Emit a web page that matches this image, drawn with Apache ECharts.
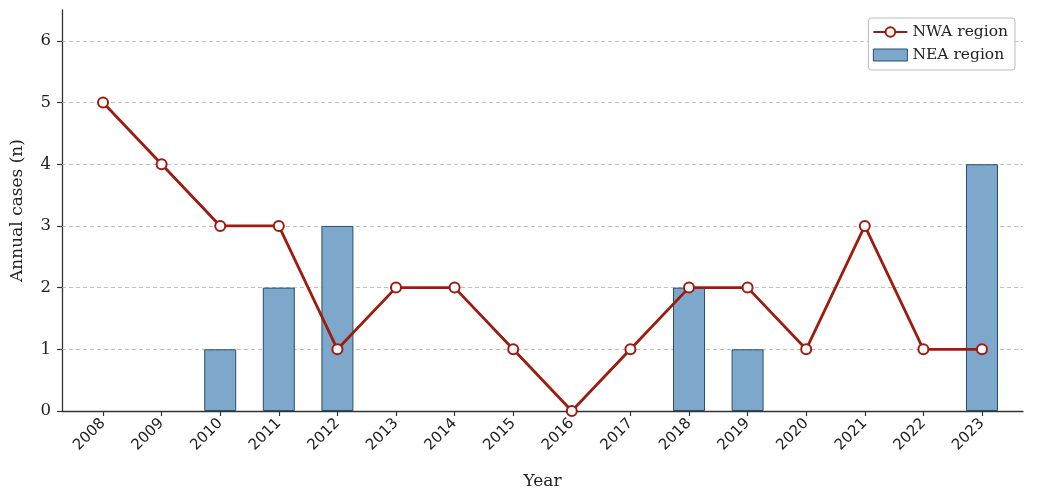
<!DOCTYPE html>
<html><head><meta charset="utf-8">
<script src="https://cdn.jsdelivr.net/npm/echarts@6/dist/echarts.min.js"></script>
<style>html,body{margin:0;padding:0;background:#fff}#c{width:1038px;height:497px}</style>
</head><body><div id="c"></div>
<script>
const years = [2008,2009,2010,2011,2012,2013,2014,2015,2016,2017,2018,2019,2020,2021,2022,2023];
const nwa = [5,4,3,3,1,2,2,1,0,1,2,2,1,3,1,1];
const nea = [0,0,1,2,3,0,0,0,0,0,2,1,0,0,0,4];
const yTicks = [0,1,2,3,4,5,6];

const font = 'DejaVu Serif';
const chart = echarts.init(document.getElementById('c'));
chart.setOption({
  animation: false,
  textStyle: {fontFamily: font},
  grid: {left: 62, right: 15, top: 10, bottom: 86, containLabel: false, outerBoundsMode: 'none'},
  legend: {
    right: 23, top: 18, orient: 'vertical',
    backgroundColor: '#fff', borderColor: '#bbb', borderWidth: 1, borderRadius: 3,
    padding: [6, 7, 7, 4], itemGap: 7, itemWidth: 34, itemHeight: 12,
    textStyle: {fontFamily: font, fontSize: 15.5, color: '#222'},
    data: [
      {name: 'NWA region'},
      {name: 'NEA region', icon: 'rect', itemStyle: {borderWidth: 1}}
    ]
  },
  xAxis: {
    type: 'value', min: 2007.3, max: 2023.7,
    name: 'Year', nameLocation: 'middle', nameGap: 62,
    nameTextStyle: {fontFamily: font, fontSize: 17, color: '#222'},
    axisLine: {lineStyle: {color: '#333', width: 1.3}},
    axisTick: {show: true, length: 5, lineStyle: {color: '#333', width: 1.2}, customValues: years},
    axisLabel: {rotate: 45, fontFamily: 'DejaVu Sans', fontSize: 15, color: '#222', margin: 10, customValues: years,
      formatter: v => String(v)},
    splitLine: {show: false}
  },
  yAxis: {
    type: 'value', min: 0, max: 6.5,
    name: 'Annual cases (n)', nameLocation: 'middle', nameGap: 36,
    nameTextStyle: {fontFamily: font, fontSize: 17, color: '#222'},
    axisLine: {show: true, lineStyle: {color: '#333', width: 1.3}},
    axisTick: {show: true, length: 5, lineStyle: {color: '#333', width: 1.2}, customValues: yTicks},
    axisLabel: {fontFamily: font, fontSize: 16.5, color: '#222', margin: 11, customValues: yTicks},
    splitLine: {show: false}
  },
  series: [
    {
      name: 'NEA region', type: 'bar', barWidth: 32, z: 2,
      data: years.map((y, i) => [y, nea[i]]).filter(d => d[1] > 0),
      itemStyle: {color: '#7ea8cb', borderColor: '#2a4d6e', borderWidth: 1},
      markLine: {
        silent: true, symbol: 'none', z: 1, label: {show: false},
        lineStyle: {type: [4, 3], color: '#b0b0b0', width: 0.8},
        emphasis: {disabled: true},
        data: yTicks.filter(v => v > 0).map(v => ({yAxis: v}))
      }
    },
    {
      name: 'NWA region', type: 'line', z: 3,
      data: years.map((y, i) => [y, nwa[i]]),
      lineStyle: {color: '#9e1b0f', width: 2.8},
      itemStyle: {color: '#fff', borderColor: '#9e1b0f', borderWidth: 2},
      symbol: 'circle', symbolSize: 10, showAllSymbol: true
    }
  ]
});
</script></body></html>
